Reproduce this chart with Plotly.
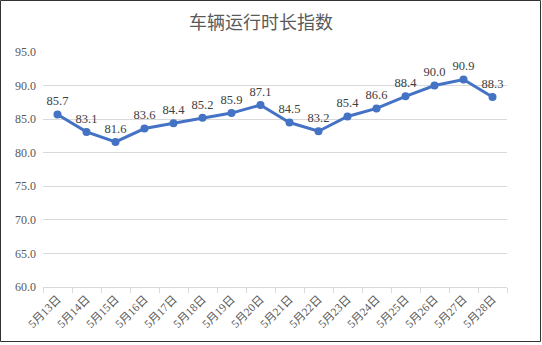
import plotly.graph_objects as go

# Daily vehicle running-time index
dates = ["5月13日", "5月14日", "5月15日", "5月16日", "5月17日", "5月18日", "5月19日", "5月20日",
         "5月21日", "5月22日", "5月23日", "5月24日", "5月25日", "5月26日", "5月27日", "5月28日"]
index_values = [85.7, 83.1, 81.6, 83.6, 84.4, 85.2, 85.9, 87.1,
                84.5, 83.2, 85.4, 86.6, 88.4, 90.0, 90.9, 88.3]
y_ticks = [60, 65, 70, 75, 80, 85, 90, 95]

W, H = 542, 345
ML, MR, MT, MB = 43, 35, 52, 58
PW, PH = W - ML - MR, H - MT - MB

serif = "Liberation Serif, Noto Sans CJK SC, serif"

fig = go.Figure()
fig.add_trace(go.Scatter(
    x=dates, y=index_values,
    mode="lines+markers+text",
    line=dict(color="#4472C4", width=3),
    marker=dict(color="#4472C4", size=8),
    text=[f"{v:.1f}" for v in index_values],
    textposition="top center",
    textfont=dict(family=serif, size=12.5, color="#404040"),
    cliponaxis=False,
    hoverinfo="skip",
))

# Outer chart frame
fig.add_shape(type="rect", xref="paper", yref="paper",
              x0=(0.5 - ML) / PW, x1=(540.5 - ML) / PW,
              y0=-(MB - 3.5) / PH, y1=1 + (MT - 0.5) / PH,
              line=dict(color="#333333", width=1), fillcolor="rgba(0,0,0,0)", layer="below")

fig.update_layout(
    width=W, height=H,
    margin=dict(l=ML, r=MR, t=MT, b=MB),
    paper_bgcolor="white", plot_bgcolor="white",
    showlegend=False,
    title=dict(text="车辆运行时长指数", x=261 / W, xanchor="center", y=1 - 23 / H, yanchor="middle",
               font=dict(family="Noto Sans CJK SC, sans-serif", size=18, color="#595959")),
    xaxis=dict(
        type="category", range=[-0.5, len(dates) - 0.5],
        showgrid=False, showline=True, linecolor="#d9d9d9", linewidth=1,
        ticks="outside", tickson="boundaries", ticklen=5, tickcolor="#d9d9d9",
        tickangle=-45,
        tickfont=dict(family=serif, size=11.5, color="#595959"),
    ),
    yaxis=dict(
        range=[60, 95], tickvals=y_ticks, ticktext=[f"{v:.1f}" for v in y_ticks],
        showgrid=True, gridcolor="#d9d9d9", gridwidth=1, zeroline=False,
        ticks="", ticklabelstandoff=6,
        tickfont=dict(family=serif, size=12, color="#595959"),
    ),
)

fig.write_html("out.html")
